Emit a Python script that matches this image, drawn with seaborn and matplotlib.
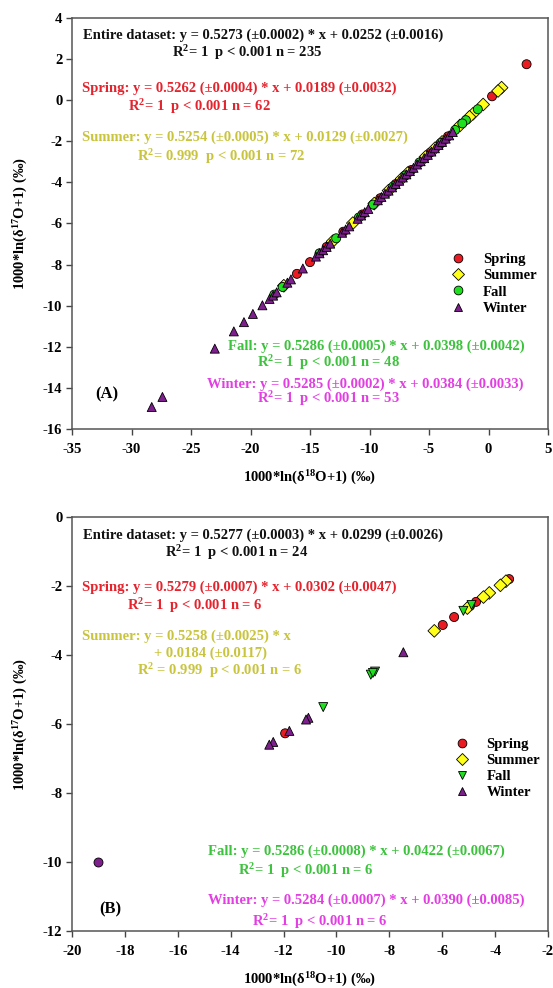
import matplotlib
matplotlib.use("Agg")
import matplotlib.pyplot as plt
import pandas as pd
import seaborn as sns
from matplotlib.lines import Line2D

# ---------------- Panel A: full data set ----------------
a_spring_x = [3.2, 0.3, -15.0, -16.1, -3.4, -6.5, -9.1, -12.2, -13.6, -7.8, -10.6, -4.9]
a_spring_y = [1.75, 0.19, -7.88, -8.45, -1.76, -3.40, -4.77, -6.40, -7.14, -4.08, -5.56, -2.55]

a_summer_x = [1.1, 0.8, -0.45, -1.3, -1.6, -2.4, -11.4, -8.4, -6.8, -5.3, -3.9, -4.5, -7.3,
              -9.6, -13.1, -17.2]
a_summer_y = [0.61, 0.45, -0.21, -0.66, -0.81, -1.23, -5.98, -4.40, -3.55, -2.76, -2.03, -2.34,
              -3.82, -5.03, -6.87, -9.03]

a_fall_x = [-0.9, -1.9, -2.2, -2.8, -12.8, -9.7, -17.3, -4.0, -5.8, -7.0, -8.0, -10.9, -14.2, -18.0]
a_fall_y = [-0.44, -0.97, -1.13, -1.45, -6.72, -5.08, -9.09, -2.08, -3.03, -3.66, -4.19, -5.71,
            -7.45, -9.46]

a_winter_x = [-28.3, -27.4, -23.0, -21.4, -20.55, -19.8, -19.0, -18.4, -18.1, -17.8, -16.9,
              -16.6, -15.6, -14.5, -14.2, -13.9, -13.6, -13.3, -12.3, -12.0, -11.7, -11.0,
              -10.7, -10.4, -10.1, -9.3, -9.0, -8.7, -8.4, -8.1, -7.8, -7.5, -7.2, -6.9, -6.6,
              -6.3, -6.0, -5.7, -5.4, -5.1, -4.8, -4.5, -4.2, -3.9, -3.6, -3.3, -3.0]
a_winter_y = [-14.93, -14.44, -12.09, -11.25, -10.80, -10.40, -9.98, -9.67, -9.51, -9.35, -8.88,
              -8.72, -8.19, -7.61, -7.45, -7.30, -7.14, -6.98, -6.45, -6.29, -6.14, -5.77,
              -5.61, -5.45, -5.29, -4.87, -4.71, -4.55, -4.40, -4.24, -4.08, -3.92, -3.76, -3.61,
              -3.45, -3.29, -3.13, -2.97, -2.82, -2.66, -2.50, -2.34, -2.18, -2.03, -1.87,
              -1.71, -1.55]

# ---------------- Panel B: subset ----------------
b_spring_x = [-3.47, -4.72, -5.55, -5.98, -11.94, -4.95]
b_spring_y = [-1.80, -2.46, -2.90, -3.13, -6.27, -2.58]

b_summer_x = [-3.59, -3.80, -4.22, -4.44, -6.30, -5.05]
b_summer_y = [-1.86, -1.98, -2.20, -2.32, -3.30, -2.64]

b_fall_x = [-4.89, -5.20, -8.54, -8.70, -10.50, -8.62]
b_fall_y = [-2.55, -2.72, -4.48, -4.57, -5.51, -4.52]

b_winter_x = [-7.47, -11.06, -11.15, -11.78, -12.39, -12.54]
b_winter_y = [-3.92, -5.82, -5.87, -6.20, -6.52, -6.60]

b_extra_x = [-19.0]
b_extra_y = [-10.0]

seasons = ["Spring", "Summer", "Fall", "Winter"]
fill = {"Spring": "#ea1b22", "Summer": "#ffff1a", "Fall": "#1fe01f", "Winter": "#7d1f8c"}
text_col = {"Entire": "#111111", "Spring": "#e5232d", "Summer": "#c8c43c",
            "Fall": "#3cc23c", "Winter": "#e23ee2"}
markers_a = {"Spring": "o", "Summer": "D", "Fall": "o", "Winter": "^"}
markers_b = {"Spring": "o", "Summer": "D", "Fall": "v", "Winter": "^"}

SERIF = "Liberation Serif"
plt.rcParams.update({
    "font.family": SERIF,
    "font.weight": "bold",
    "mathtext.fontset": "custom",
    "mathtext.rm": "Liberation Serif:bold",
    "mathtext.bf": "Liberation Serif:bold",
    "mathtext.it": "Liberation Serif:bold",
    "mathtext.default": "bf",
})


def frame(series):
    rows = []
    for name, (xs, ys) in series.items():
        for xv, yv in zip(xs, ys):
            rows.append({"x": xv, "y": yv, "season": name})
    return pd.DataFrame(rows)


df_a = frame({"Spring": (a_spring_x, a_spring_y), "Summer": (a_summer_x, a_summer_y),
              "Fall": (a_fall_x, a_fall_y), "Winter": (a_winter_x, a_winter_y)})
df_b = frame({"Spring": (b_spring_x, b_spring_y), "Summer": (b_summer_x, b_summer_y),
              "Fall": (b_fall_x, b_fall_y), "Winter": (b_winter_x, b_winter_y)})

W, H = 553, 988
fig = plt.figure(figsize=(W / 100, H / 100), dpi=100)


def px_axes(left, top, right, bottom):
    return fig.add_axes([left / W, 1 - bottom / H, (right - left) / W, (bottom - top) / H])


ax_a = px_axes(72, 18, 548, 429)
ax_b = px_axes(72, 517, 548, 931)

XLAB = "1000*ln(δ$^{18}$O+1) (‰)"
YLAB = "1000*ln(δ$^{17}$O+1) (‰)"


def style_axes(ax, xlim, ylim, xticks, yticks):
    ax.set_xlim(*xlim)
    ax.set_ylim(*ylim)
    ax.set_xticks(xticks)
    ax.set_yticks(yticks)
    ax.set_xticklabels([f"{t:g}" for t in xticks], fontsize=10.5, fontweight="bold")
    ax.set_yticklabels([f"{t:g}" for t in yticks], fontsize=10.5, fontweight="bold")
    for s in ax.spines.values():
        s.set_color("#555555")
        s.set_linewidth(1.1)
    ax.tick_params(axis="both", direction="out", length=4, width=1.0, color="#444444")
    ax.tick_params(axis="x", pad=6)
    ax.tick_params(axis="y", pad=3)
    ax.set_xlabel(XLAB, fontsize=10.5, fontweight="bold", labelpad=9)
    ax.set_ylabel(YLAB, fontsize=10.5, fontweight="bold", labelpad=9)


def draw_points(ax, df, markers):
    sns.scatterplot(data=df, x="x", y="y", hue="season", style="season",
                    palette=fill, markers=markers, hue_order=seasons, style_order=seasons,
                    s=42, edgecolor="black", linewidth=0.6, legend=False, ax=ax, zorder=3)


def draw_legend(ax, markers, anchor):
    handles = [Line2D([], [], linestyle="none", marker=markers[k], markerfacecolor=fill[k],
                      markeredgecolor="black", markeredgewidth=0.6, markersize=6.3)
               for k in seasons]
    ax.legend(handles, seasons, loc="upper left", bbox_to_anchor=anchor, frameon=False,
              handlelength=1.0, handletextpad=1.2, labelspacing=0.2, borderpad=0,
              borderaxespad=0, prop={"family": SERIF, "weight": "bold", "size": 10.5})


def note(ax, x, y, s, key, size=10.5):
    ax.text(x, y, s, transform=ax.transAxes, ha="left", va="center", color=text_col[key],
            fontsize=size, fontweight="bold")


# ----- Panel A -----
draw_points(ax_a, df_a, markers_a)
style_axes(ax_a, (-35, 5), (-16, 4), list(range(-35, 6, 5)), list(range(-16, 5, 2)))
draw_legend(ax_a, markers_a, (0.796, 0.428))
note(ax_a, 0.023, 0.957, "Entire dataset: y = 0.5273 (±0.0002) * x + 0.0252 (±0.0016)", "Entire")
note(ax_a, 0.211, 0.916, "R$^{2}$= 1  p < 0.001 n = 235", "Entire")
note(ax_a, 0.021, 0.830, "Spring: y = 0.5262 (±0.0004) * x + 0.0189 (±0.0032)", "Spring")
note(ax_a, 0.118, 0.784, "R$^{2}$= 1  p < 0.001 n = 62", "Spring")
note(ax_a, 0.021, 0.711, "Summer: y = 0.5254 (±0.0005) * x + 0.0129 (±0.0027)", "Summer")
note(ax_a, 0.137, 0.664, "R$^{2}$= 0.999  p < 0.001 n = 72", "Summer")
note(ax_a, 0.328, 0.201, "Fall: y = 0.5286 (±0.0005) * x + 0.0398 (±0.0042)", "Fall")
note(ax_a, 0.388, 0.162, "R$^{2}$= 1  p < 0.001 n = 48", "Fall")
note(ax_a, 0.284, 0.109, "Winter: y = 0.5285 (±0.0002) * x + 0.0384 (±0.0033)", "Winter")
note(ax_a, 0.389, 0.073, "R$^{2}$= 1  p < 0.001 n = 53", "Winter")
ax_a.text(0.074, 0.083, "(A)", transform=ax_a.transAxes, ha="center", va="center",
          fontsize=12, fontweight="bold", color="black")

# ----- Panel B -----
draw_points(ax_b, df_b, markers_b)
sns.scatterplot(x=b_extra_x, y=b_extra_y, color=fill["Winter"], marker="o", s=42,
                edgecolor="black", linewidth=0.6, legend=False, ax=ax_b, zorder=3)
style_axes(ax_b, (-20, -2), (-12, 0), list(range(-20, -1, 2)), list(range(-12, 1, 2)))
draw_legend(ax_b, markers_b, (0.803, 0.467))
note(ax_b, 0.023, 0.955, "Entire dataset: y = 0.5277 (±0.0003) * x + 0.0299 (±0.0026)", "Entire")
note(ax_b, 0.196, 0.914, "R$^{2}$= 1  p < 0.001 n = 24", "Entire")
note(ax_b, 0.021, 0.831, "Spring: y = 0.5279 (±0.0007) * x + 0.0302 (±0.0047)", "Spring")
note(ax_b, 0.116, 0.786, "R$^{2}$= 1  p < 0.001 n = 6", "Spring")
note(ax_b, 0.021, 0.711, "Summer: y = 0.5258 (±0.0025) * x", "Summer")
note(ax_b, 0.172, 0.671, "+ 0.0184 (±0.0117)", "Summer")
note(ax_b, 0.137, 0.628, "R$^{2}$ = 0.999  p < 0.001 n = 6", "Summer")
note(ax_b, 0.286, 0.193, "Fall: y = 0.5286 (±0.0008) * x + 0.0422 (±0.0067)", "Fall")
note(ax_b, 0.348, 0.147, "R$^{2}$= 1  p < 0.001 n = 6", "Fall")
note(ax_b, 0.286, 0.074, "Winter: y = 0.5284 (±0.0007) * x + 0.0390 (±0.0085)", "Winter")
note(ax_b, 0.378, 0.024, "R$^{2}$= 1  p < 0.001 n = 6", "Winter")
ax_b.text(0.080, 0.051, "(B)", transform=ax_b.transAxes, ha="center", va="center",
          fontsize=12, fontweight="bold", color="black")

fig.savefig("out.png", dpi=100)
